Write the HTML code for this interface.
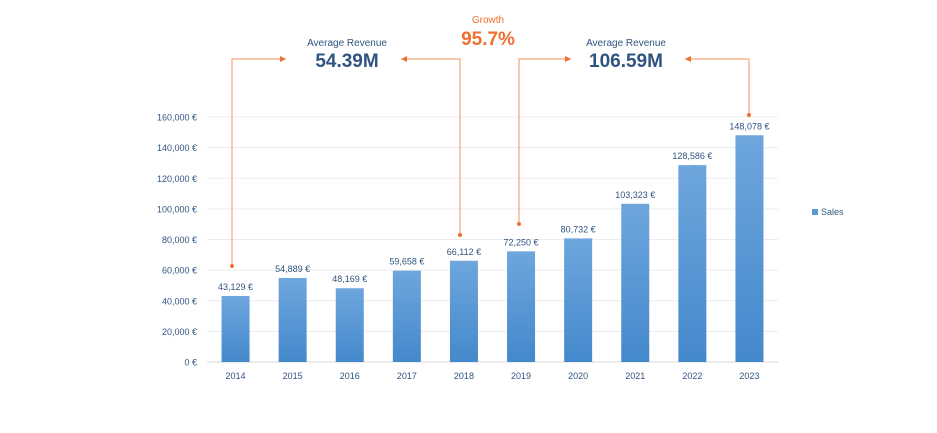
<!DOCTYPE html>
<html><head><meta charset="utf-8"><style>
body{margin:0;background:#fff;}
svg{display:block;font-family:"Liberation Sans",sans-serif;}
</style></head><body>
<svg id="chart" width="937" height="433" viewBox="0 0 937 433">
<defs>
<linearGradient id="bg" x1="0" y1="0" x2="0" y2="1"><stop offset="0" stop-color="#6ea6dd"/><stop offset="1" stop-color="#4489cc"/></linearGradient>
<marker id="ah" markerWidth="8" markerHeight="8" refX="6" refY="3" orient="auto"><path d="M0,0 L6,3 L0,6 z" fill="#f07030"/></marker>
</defs>
<g id="grid"></g><g id="bars"></g><g id="labels"></g>
<g fill="none" stroke="#f4905a" stroke-width="1">
<polyline points="232,266 232,59 286,59" marker-end="url(#ah)"/>
<polyline points="460,235 460,59 401,59" marker-end="url(#ah)"/>
<polyline points="519,224 519,59 571,59" marker-end="url(#ah)"/>
<polyline points="749,115 749,59 685,59" marker-end="url(#ah)"/>
</g>
<g fill="#f07030">
<circle cx="232" cy="266" r="2"/><circle cx="460" cy="235" r="2"/><circle cx="519" cy="224" r="2"/><circle cx="749" cy="115" r="2"/>
</g>
<text x="347" y="46" text-anchor="middle" font-size="10" fill="#2f5480">Average Revenue</text>
<text x="347" y="67" text-anchor="middle" font-size="19" font-weight="bold" fill="#2f5480">54.39M</text>
<text x="488" y="23" text-anchor="middle" font-size="10" fill="#f07030">Growth</text>
<text x="488" y="45" text-anchor="middle" font-size="19" font-weight="bold" fill="#f07030">95.7%</text>
<text x="626" y="46" text-anchor="middle" font-size="10" fill="#2f5480">Average Revenue</text>
<text x="626" y="67" text-anchor="middle" font-size="19" font-weight="bold" fill="#2f5480">106.59M</text>
<rect x="812" y="209" width="6" height="6" fill="#5a9ad8"/>
<text x="821" y="215" font-size="9" fill="#2f5480">Sales</text>
</svg>
<script>
const years=["2014","2015","2016","2017","2018","2019","2020","2021","2022","2023"];
const sales=[43129,54889,48169,59658,66112,72250,80732,103323,128586,148078];
const ticks=[0,20000,40000,60000,80000,100000,120000,140000,160000];
const ns="http://www.w3.org/2000/svg";
const y0=362,yTop=117,yMax=160000,x0=207,x1=778;
const step=(x1-x0)/years.length;
const yS=v=>y0-(y0-yTop)*v/yMax;
const xS=i=>x0+step*(i+0.5);
const fmt=v=>v.toLocaleString('en-US')+' €';
function mk(t,a,p){const e=document.createElementNS(ns,t);for(const k in a)e.setAttribute(k,a[k]);p.appendChild(e);return e;}
const g=document.getElementById('grid'),b=document.getElementById('bars'),l=document.getElementById('labels');
ticks.forEach(t=>{
 const ln=mk('line',{x1:x0,x2:x1,y1:yS(t),y2:yS(t),stroke:t===0?'#d9d9d9':'#ececec','stroke-width':1},g);
 
 
 const tx=mk('text',{x:197,y:yS(t)+3.5,'text-anchor':'end','font-size':9,fill:'#2f5480'},g);
 tx.textContent=t===0?'0 €':fmt(t);
 
 
});
years.forEach((yr,i)=>{
 const cx=xS(i),v=sales[i];
 const r=mk('rect',{x:cx-14,y:yS(v),width:28,height:y0-yS(v),fill:'url(#bg)'},b);
 
 
 const vl=mk('text',{x:cx,y:yS(v)-6,'text-anchor':'middle','font-size':9,fill:'#2f5480'},l);
 vl.textContent=fmt(v);
 
 
 const xl=mk('text',{x:cx,y:379,'text-anchor':'middle','font-size':9,fill:'#2f5480'},l);
 xl.textContent=yr;
 
 
});
</script>
</body></html>
